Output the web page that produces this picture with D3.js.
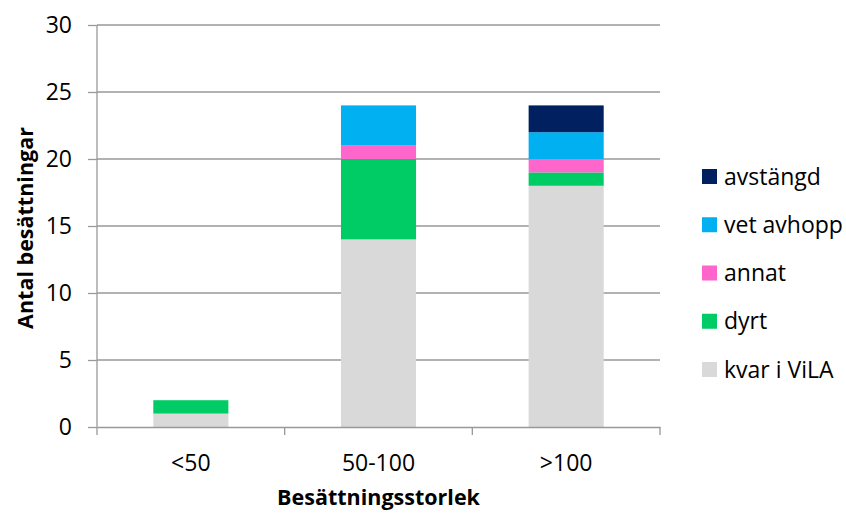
<!DOCTYPE html>
<html><head><meta charset="utf-8">
<script src="https://cdn.jsdelivr.net/npm/d3@7"></script>
<style>body{margin:0;background:#fff}svg{display:block}</style>
</head><body>
<script>
const categories = ["<50", "50-100", ">100"];
const seriesNames = ["kvar i ViLA", "dyrt", "annat", "vet avhopp", "avstängd"];
const kvar = [1, 14, 18];
const dyrt = [1, 6, 1];
const annat = [0, 1, 1];
const vetAvhopp = [0, 3, 2];
const avstangd = [0, 0, 2];
const yTicks = [0, 5, 10, 15, 20, 25, 30];
const colors = ["#d9d9d9", "#00cc66", "#ff66cc", "#00b0f0", "#002060"];

const W = 846, H = 513;
const m = {left: 97, right: 186, top: 25, bottom: 86};
const font = "'Open Sans', sans-serif";
const svg = d3.select("body").append("svg").attr("width", W).attr("height", H);

const rows = categories.map((c, i) => ({cat: c, "kvar i ViLA": kvar[i], "dyrt": dyrt[i], "annat": annat[i], "vet avhopp": vetAvhopp[i], "avstängd": avstangd[i]}));
const stack = d3.stack().keys(seriesNames)(rows);

const x = d3.scaleBand().domain(categories).range([m.left, W - m.right]).paddingInner(0.6).paddingOuter(0.3);
const y = d3.scaleLinear().domain([0, 30]).range([H - m.bottom, m.top]);

// gridlines
svg.append("g").selectAll("line").data(yTicks.filter(d => d > 0)).join("line")
  .attr("x1", m.left).attr("x2", W - m.right)
  .attr("y1", d => y(d)).attr("y2", d => y(d))
  .attr("stroke", "#999").attr("stroke-width", 1.3);

// bars
svg.append("g").selectAll("g").data(stack).join("g")
  .attr("fill", (d, i) => colors[i])
  .selectAll("rect").data(d => d).join("rect")
  .attr("x", d => x(d.data.cat))
  .attr("width", x.bandwidth())
  .attr("y", d => y(d[1]))
  .attr("height", d => y(d[0]) - y(d[1]));

// y axis
const ya = svg.append("g").attr("transform", `translate(${m.left},0)`)
  .call(d3.axisLeft(y).tickValues(yTicks).tickSize(9).tickPadding(6));
ya.select(".domain").attr("stroke", "#999").attr("stroke-width", 1.3).attr("d", `M0,${y(0)}V${y(30)}`);
ya.selectAll(".tick line").attr("stroke", "#999").attr("stroke-width", 1.3);
ya.selectAll("text").attr("font-family", font).attr("font-size", 23).attr("fill", "#000").attr("dx", "-10");

// x axis
const xa = svg.append("g").attr("transform", `translate(0,${y(0)})`)
  .call(d3.axisBottom(x).tickSize(0).tickPadding(28));
xa.select(".domain").attr("stroke", "#999").attr("stroke-width", 1.3);
xa.selectAll("text").attr("font-family", font).attr("font-size", 23).attr("fill", "#000");
const bounds = [0, 1, 2, 3].map(i => m.left + i * (W - m.right - m.left) / 3);
xa.append("g").selectAll("line").data(bounds).join("line")
  .attr("x1", d => d).attr("x2", d => d).attr("y1", 0).attr("y2", 8)
  .attr("stroke", "#999").attr("stroke-width", 1.3);

// axis titles
svg.append("text").attr("x", (m.left + W - m.right) / 2).attr("y", 505)
  .attr("text-anchor", "middle").attr("font-family", font).attr("font-weight", "bold")
  .attr("font-size", 21.5).text("Besättningsstorlek");
svg.append("text").attr("transform", `translate(33,228) rotate(-90)`)
  .attr("text-anchor", "middle").attr("font-family", font).attr("font-weight", "bold")
  .attr("font-size", 21.5).text("Antal besättningar");

// legend
const legendOrder = seriesNames.map((n, i) => ({n, c: colors[i]})).reverse();
const lg = svg.append("g").selectAll("g").data(legendOrder).join("g")
  .attr("transform", (d, i) => `translate(702,${176.5 + i * 48.25})`);
lg.append("rect").attr("x", 0).attr("y", -7.5).attr("width", 15).attr("height", 15).attr("fill", d => d.c);
lg.append("text").attr("x", 22).attr("y", 0).attr("dy", "0.35em")
  .attr("font-family", font).attr("font-size", 23).text(d => d.n);
</script>
</body></html>
